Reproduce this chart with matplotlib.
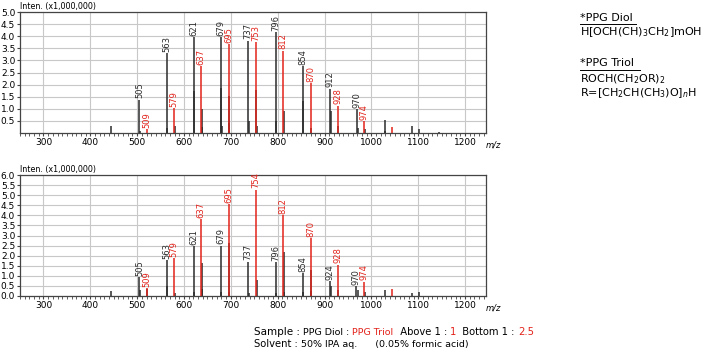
import numpy as np
import matplotlib
matplotlib.use('Agg')
import matplotlib.pyplot as plt
from matplotlib.ticker import MultipleLocator

BLACK = '#2b2b2b'
RED = '#e3231b'

# top panel (PPG Diol : PPG Triol = 1 : 1), intensity x1,000,000
top_diol_mz = [505, 563, 621, 679, 737, 796, 854, 912, 970]
top_diol_int = [1.38, 3.30, 3.96, 3.96, 3.82, 4.17, 2.77, 1.83, 0.99]
top_diol_lab = ['505', '563', '621', '679', '737', '796', '854', '912', '970']
top_triol_mz = [521, 579, 637, 695, 753, 812, 870, 928, 985]
top_triol_int = [0.15, 1.04, 2.77, 3.68, 3.76, 3.40, 2.05, 1.13, 0.50]
top_triol_lab = ['509', '579', '637', '695', '753', '812', '870', '928', '974']
top_minor_mz = [445, 506, 564, 580, 622, 638, 639, 680, 681, 696, 697, 738, 754, 755,
                797, 813, 855, 871, 913, 929, 971, 986, 1028, 1029, 1086, 1102, 1144]
top_minor_int = [0.30, 0.10, 0.22, 0.30, 1.72, 1.00, 0.25, 1.88, 0.30, 1.55, 0.42, 0.50, 1.77, 0.30,
                 0.50, 0.92, 1.34, 0.20, 0.92, 0.30, 0.20, 0.15, 0.54, 0.10, 0.28, 0.15, 0.05]
top_minor_red_mz = [1044]
top_minor_red_int = [0.25]

# bottom panel (PPG Diol : PPG Triol = 1 : 2.5)
bot_diol_mz = [505, 563, 621, 679, 737, 796, 854, 912, 968]
bot_diol_int = [0.92, 1.78, 2.47, 2.50, 1.70, 1.67, 1.13, 0.72, 0.50]
bot_diol_lab = ['505', '563', '621', '679', '737', '796', '854', '924', '970']
bot_triol_mz = [521, 579, 637, 695, 754, 812, 870, 928, 985]
bot_triol_int = [0.38, 1.88, 3.82, 4.55, 5.28, 4.00, 2.88, 1.55, 0.70]
bot_triol_lab = ['509', '579', '637', '695', '754', '812', '870', '928', '974']
bot_minor_mz = [445, 506, 522, 564, 580, 622, 638, 639, 680, 696, 697, 738, 755, 797,
                813, 814, 855, 871, 872, 913, 929, 971, 986, 1028, 1086, 1102]
bot_minor_int = [0.27, 0.30, 0.35, 0.50, 0.15, 0.20, 1.63, 0.35, 0.20, 2.62, 0.20, 0.15, 0.80, 0.15,
                 2.20, 0.20, 0.20, 1.30, 0.25, 0.50, 0.30, 0.30, 0.20, 0.30, 0.15, 0.20]
bot_minor_red_mz = [1044]
bot_minor_red_int = [0.33]

x_ticks = [300, 400, 500, 600, 700, 800, 900, 1000, 1100, 1200]


def draw_spectrum(ax, ymax, yticks, minor, minor_red, diol, triol):
    ax.set_xlim(250, 1245)
    ax.set_ylim(0, ymax)
    ax.set_xticks(x_ticks)
    ax.xaxis.set_minor_locator(MultipleLocator(10))
    ax.set_yticks(yticks)
    ax.set_yticklabels(['%.1f' % v for v in yticks])
    ax.grid(True, color='#c8c8c8', linewidth=0.8)
    ax.set_axisbelow(True)
    ax.tick_params(axis='both', which='major', labelsize=6.5, length=2.5, width=0.8,
                   color='#444444', pad=1)
    ax.tick_params(axis='x', which='minor', length=1.8, width=0.6, color='#444444')
    for sp in ax.spines.values():
        sp.set_color('#444444')
        sp.set_linewidth(0.9)

    ax.vlines(minor[0], 0, minor[1], color=BLACK, linewidth=1.1)
    ax.vlines(minor_red[0], 0, minor_red[1], color=RED, linewidth=1.1)
    for (mz, it, lab), col in [(diol, BLACK), (triol, RED)]:
        ax.vlines(mz, 0, it, color=col, linewidth=1.1)
        for m, v, s in zip(mz, it, lab):
            ax.annotate(s, (m, v), xytext=(0, 1.0), textcoords='offset points',
                        rotation=90, ha='center', va='bottom', fontsize=6, color=col,
                        annotation_clip=False)
    ax.text(1.0, -0.06, 'm/z', transform=ax.transAxes, fontsize=6, style='italic',
            ha='left', va='top')
    ax.text(0.0, 1.005, 'Inten. (x1,000,000)', transform=ax.transAxes, fontsize=5.8,
            ha='left', va='bottom')


fig = plt.figure(figsize=(7.15, 3.53), dpi=100)
ax1 = fig.add_axes([0.028, 0.623, 0.652, 0.343])
ax2 = fig.add_axes([0.028, 0.1615, 0.652, 0.3425])

draw_spectrum(ax1, 5.0, np.arange(0.5, 5.01, 0.5), (top_minor_mz, top_minor_int),
              (top_minor_red_mz, top_minor_red_int),
              (top_diol_mz, top_diol_int, top_diol_lab),
              (top_triol_mz, top_triol_int, top_triol_lab))
draw_spectrum(ax2, 6.0, np.arange(0.0, 6.01, 0.5), (bot_minor_mz, bot_minor_int),
              (bot_minor_red_mz, bot_minor_red_int),
              (bot_diol_mz, bot_diol_int, bot_diol_lab),
              (bot_triol_mz, bot_triol_int, bot_triol_lab))

# structure notes on the right
fx = 580 / 715.0
fig.text(fx, 1 - 18 / 353.0, '*PPG Diol', fontsize=8, va='center')
fig.add_artist(plt.Line2D([fx, fx + 56 / 715.0], [1 - 24 / 353.0] * 2, color='black', lw=0.7))
fig.text(fx, 1 - 32 / 353.0, r'H[OCH(CH)$_3$CH$_2$]mOH', fontsize=8, va='center')
fig.text(fx, 1 - 63 / 353.0, '*PPG Triol', fontsize=8, va='center')
fig.add_artist(plt.Line2D([fx, fx + 60 / 715.0], [1 - 70 / 353.0] * 2, color='black', lw=0.7))
fig.text(fx, 1 - 79 / 353.0, r'ROCH(CH$_2$OR)$_2$', fontsize=8, va='center')
fig.text(fx, 1 - 93 / 353.0, r'R=[CH$_2$CH(CH$_3$)O]$_n$H', fontsize=8, va='center')


def colored_line(x, y, parts):
    renderer = fig.canvas.get_renderer()
    for s, col, size in parts:
        t = fig.text(x, y, s, color=col, fontsize=size, va='baseline', ha='left')
        bb = t.get_window_extent(renderer)
        x += bb.width / fig.bbox.width


colored_line(254 / 715.0, 1 - 335 / 353.0,
             [('Sample : ', 'black', 7.5), ('PPG Diol : ', 'black', 6.8), ('PPG Triol', RED, 6.8),
              ('  Above 1 : ', 'black', 7.2), ('1', RED, 7.2), ('  Bottom 1 : ', 'black', 7.2),
              ('2.5', RED, 7.2)])
colored_line(254 / 715.0, 1 - 347 / 353.0,
             [('Solvent : ', 'black', 7.2), ('50% IPA aq.      (0.05% formic acid)', 'black', 6.8)])

fig.savefig('out.png', dpi=100)
